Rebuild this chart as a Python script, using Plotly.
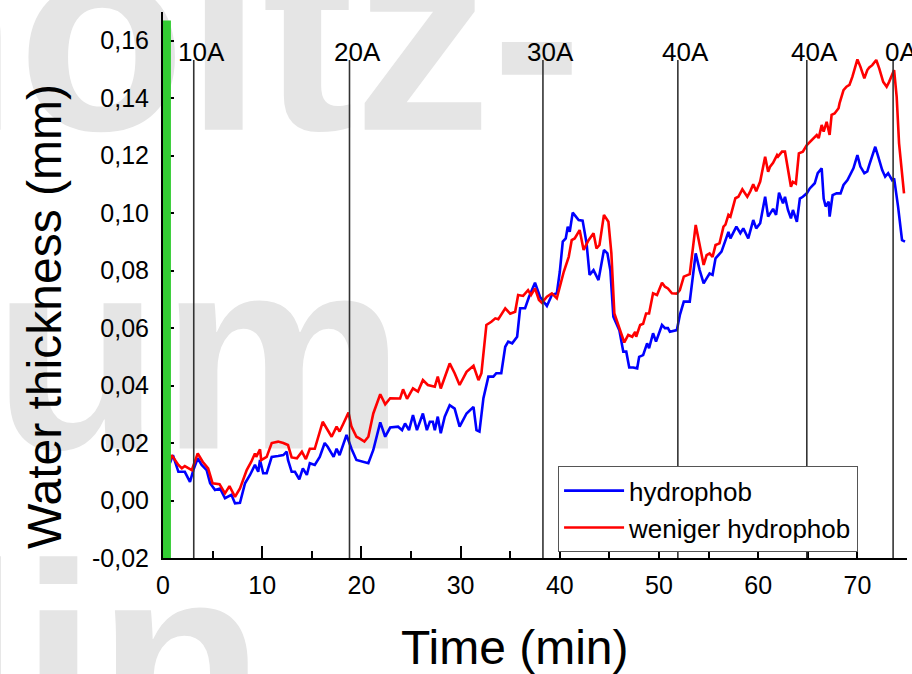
import plotly.graph_objects as go

# ---------------- data ----------------
t_hydrophob = [0.7, 0.88, 1.0, 1.55, 2.2, 2.72, 3.06, 3.5, 3.9, 4.4, 4.75, 5.24, 5.75, 6.25, 6.9,
               7.26, 7.76, 8.27, 8.77, 9.27, 9.6, 9.78, 10.1, 10.45, 10.96, 11.6, 12.13, 12.47, 12.6,
               12.97, 13.3, 13.74, 14.1, 14.5, 14.8, 15.3, 15.8, 16.3, 16.6, 17.2, 17.5, 17.8, 18.5,
               19.0, 19.5, 20.7, 21.2, 21.9, 22.4, 22.9, 23.7, 24.1, 24.4, 24.8, 25.2, 25.6, 26.2,
               26.6, 26.9, 27.2, 27.4, 27.7, 28.0, 28.4, 28.9, 29.4, 29.9, 30.6, 31.3, 31.6, 31.9,
               32.3, 32.8, 33.3, 33.6, 34.1, 34.5, 34.8, 35.2, 35.7, 36.0, 36.5, 36.9, 37.5, 38.0,
               38.7, 39.2, 39.7, 40.0, 40.3, 40.6, 40.8, 41.0, 41.3, 41.9, 42.3, 42.7, 43.0, 43.4,
               43.9, 44.45, 44.8, 45.1, 45.4, 46.0, 46.4, 46.7, 47.0, 47.4, 47.8, 48.0, 48.4, 48.8,
               49.0, 49.4, 49.7, 50.3, 50.6, 50.9, 51.1, 51.6, 51.8, 52.1, 52.5, 53.1, 53.7, 54.1,
               54.5, 54.8, 55.1, 55.4, 55.7, 56.3, 56.6, 57.0, 57.2, 57.8, 58.2, 58.5, 59.0, 59.5,
               59.8, 60.2, 60.7, 61.0, 61.5, 61.8, 62.1, 62.5, 62.7, 63.0, 63.3, 63.5, 63.9, 64.2,
               64.5, 64.9, 65.2, 65.7, 66.0, 66.4, 66.6, 66.8, 67.1, 67.2, 67.5, 67.9, 68.3, 68.6,
               69.0, 69.3, 69.6, 70.0, 70.3, 70.7, 71.0, 71.2, 71.8, 72.1, 72.5, 72.8, 73.1, 73.5,
               73.7, 74.1, 74.5, 74.8]
v_hydrophob = [0.0130, 0.0152, 0.0158, 0.0100, 0.0100, 0.0065, 0.0106, 0.0147, 0.0124, 0.0106, 0.0060,
               0.0037, 0.0042, 0.0008, 0.0020, -0.0010, -0.0008, 0.0060, 0.0089, 0.0124, 0.0100,
               0.0141, 0.0095, 0.0095, 0.0152, 0.0155, 0.0158, 0.0170, 0.0141, 0.0100, 0.0100,
               0.0074, 0.0112, 0.0089, 0.0130, 0.0124, 0.0152, 0.0200, 0.0187, 0.0152, 0.0180,
               0.0158, 0.0228, 0.0180, 0.0141, 0.0130, 0.0176, 0.0272, 0.0222, 0.0254, 0.0257,
               0.0245, 0.0268, 0.0245, 0.0297, 0.0245, 0.0303, 0.0245, 0.0274, 0.0274, 0.0245,
               0.0292, 0.0234, 0.0292, 0.0332, 0.0320, 0.0257, 0.0303, 0.0326, 0.0245, 0.0240,
               0.0356, 0.0431, 0.0431, 0.0443, 0.0443, 0.0535, 0.0553, 0.0547, 0.0570, 0.0669,
               0.0669, 0.0709, 0.0758, 0.0709, 0.0677, 0.0715, 0.0721, 0.0796, 0.0901, 0.0912,
               0.0953, 0.0935, 0.1002, 0.0976, 0.0974, 0.0895, 0.0785, 0.0802, 0.0767, 0.0872,
               0.0860, 0.0800, 0.0640, 0.0593, 0.0518, 0.0518, 0.0463, 0.0463, 0.0460, 0.0500,
               0.0506, 0.0547, 0.0530, 0.0582, 0.0553, 0.0611, 0.0600, 0.0600, 0.0587, 0.0590,
               0.0593, 0.0645, 0.0692, 0.0692, 0.0860, 0.0802, 0.0756, 0.0773, 0.0790, 0.0785,
               0.0843, 0.0866, 0.0895, 0.0935, 0.0912, 0.0953, 0.0930, 0.0947, 0.0912, 0.0976,
               0.0947, 0.0965, 0.1057, 0.0988, 0.1015, 0.0994, 0.1071, 0.1034, 0.1057, 0.1011,
               0.0982, 0.1011, 0.0970, 0.1051, 0.1057, 0.1069, 0.1086, 0.1104, 0.1139, 0.1156,
               0.1051, 0.1023, 0.1040, 0.0988, 0.1063, 0.1069, 0.1069, 0.1098, 0.1115, 0.1133,
               0.1156, 0.1202, 0.1162, 0.1139, 0.1145, 0.1168, 0.1231, 0.1197, 0.1150, 0.1127,
               0.1139, 0.1115, 0.1121, 0.1023, 0.0906, 0.0901]

t_weniger = [0.7, 0.88, 1.55, 1.9, 2.2, 2.9, 3.5, 4.0, 4.55, 5.0, 5.7, 6.25, 6.7, 7.26, 7.76, 8.44,
             8.9, 9.27, 9.4, 9.78, 9.9, 10.45, 10.96, 11.6, 12.13, 12.6, 12.97, 13.5, 14.0, 14.4,
             14.8, 15.3, 16.1, 16.5, 17.0, 17.5, 17.8, 18.2, 18.7, 19.0, 19.5, 19.8, 20.3, 20.7,
             21.2, 21.9, 22.4, 22.9, 23.2, 23.9, 24.2, 24.6, 25.2, 25.7, 26.2, 26.7, 27.4, 27.7,
             28.0, 28.9, 29.4, 29.9, 30.6, 31.3, 31.8, 32.1, 32.6, 33.1, 33.5, 33.8, 34.5, 35.0,
             35.5, 35.8, 36.3, 36.8, 37.1, 37.5, 37.9, 38.2, 38.7, 39.2, 39.7, 40.4, 40.9, 41.2,
             41.5, 42.0, 42.4, 42.9, 43.4, 43.7, 44.0, 44.45, 44.9, 45.2, 45.5, 46.0, 46.5, 46.9,
             47.3, 47.6, 47.7, 48.1, 48.4, 48.7, 49.0, 49.4, 49.8, 50.3, 50.6, 50.9, 51.3, 51.8,
             52.1, 52.5, 53.1, 53.7, 54.1, 54.5, 54.8, 55.1, 55.4, 55.7, 56.1, 56.5, 56.7, 57.0,
             57.2, 57.7, 58.0, 58.4, 58.9, 59.2, 59.5, 59.8, 60.2, 60.7, 61.0, 61.2, 61.5, 61.9,
             62.0, 62.4, 62.7, 63.0, 63.3, 63.5, 63.8, 64.1, 64.5, 64.9, 65.4, 65.9, 66.1, 66.4,
             66.6, 66.9, 67.2, 67.4, 67.7, 68.1, 68.2, 68.6, 68.9, 69.2, 69.5, 70.0, 70.3, 70.7,
             71.0, 71.2, 71.5, 71.9, 72.2, 72.6, 72.95, 73.2, 73.7, 73.96, 74.2, 74.5, 74.7]
v_weniger = [0.0140, 0.0158, 0.0124, 0.0112, 0.0120, 0.0106, 0.0164, 0.0135, 0.0112, 0.0060, 0.0057,
             0.0025, 0.0050, 0.0013, 0.0042, 0.0106, 0.0135, 0.0164, 0.0152, 0.0178, 0.0141,
             0.0152, 0.0200, 0.0205, 0.0200, 0.0193, 0.0150, 0.0147, 0.0170, 0.0144, 0.0180,
             0.0180, 0.0274, 0.0251, 0.0222, 0.0257, 0.0240, 0.0269, 0.0306, 0.0257, 0.0222,
             0.0216, 0.0205, 0.0222, 0.0303, 0.0370, 0.0335, 0.0356, 0.0356, 0.0355, 0.0387,
             0.0354, 0.0390, 0.0379, 0.0419, 0.0402, 0.0396, 0.0431, 0.0390, 0.0477, 0.0443,
             0.0402, 0.0448, 0.0469, 0.0419, 0.0443, 0.0611, 0.0622, 0.0634, 0.0631, 0.0669,
             0.0650, 0.0657, 0.0715, 0.0712, 0.0732, 0.0715, 0.0738, 0.0698, 0.0688, 0.0709,
             0.0721, 0.0704, 0.0796, 0.0848, 0.0906, 0.0912, 0.0941, 0.0872, 0.0906, 0.0930,
             0.0877, 0.0889, 0.0994, 0.0970, 0.0860, 0.0651, 0.0600, 0.0550, 0.0576, 0.0570,
             0.0587, 0.0570, 0.0611, 0.0615, 0.0651, 0.0651, 0.0721, 0.0715, 0.0758, 0.0744,
             0.0738, 0.0721, 0.0720, 0.0732, 0.0779, 0.0788, 0.0959, 0.0883, 0.0820, 0.0854,
             0.0860, 0.0848, 0.0889, 0.0895, 0.0953, 0.0960, 0.0994, 0.0988, 0.1052, 0.1057,
             0.1083, 0.1057, 0.1076, 0.1101, 0.1076, 0.1110, 0.1196, 0.1144, 0.1162, 0.1175,
             0.1202, 0.1197, 0.1214, 0.1214, 0.1150, 0.1092, 0.1109, 0.1103, 0.1208, 0.1214,
             0.1237, 0.1255, 0.1272, 0.1261, 0.1307, 0.1284, 0.1318, 0.1272, 0.1342, 0.1347,
             0.1365, 0.1382, 0.1428, 0.1440, 0.1446, 0.1475, 0.1535, 0.1510, 0.1469, 0.1498,
             0.1507, 0.1515, 0.1533, 0.1504, 0.1457, 0.1440, 0.1457, 0.1498, 0.1405, 0.1243,
             0.1139, 0.1069]

series_names = ["hydrophob", "weniger hydrophob"]

# current steps (vertical marker lines)
marker_times = [3.1, 18.8, 38.3, 51.9, 64.9, 73.6]
marker_labels = ["10A", "20A", "30A", "40A", "40A", "0A"]
marker_top = 0.1533

# highlighted start band
band_end = 0.8
band_top = 0.167

y_tickvals = [-0.02, 0.00, 0.02, 0.04, 0.06, 0.08, 0.10, 0.12, 0.14, 0.16]
y_ticktext = ["-0,02", "0,00", "0,02", "0,04", "0,06", "0,08", "0,10", "0,12", "0,14", "0,16"]
x_tickvals = [0, 10, 20, 30, 40, 50, 60, 70]

watermark_rows = ["Helmholtz-", "Zentrum", "Berlin"]

FONT = "Liberation Sans, Arial, sans-serif"

fig = go.Figure()
fig.add_trace(go.Scatter(x=t_hydrophob, y=v_hydrophob, mode="lines", name=series_names[0],
                         line=dict(color="#0000ff", width=2.6)))
fig.add_trace(go.Scatter(x=t_weniger, y=v_weniger, mode="lines", name=series_names[1],
                         line=dict(color="#ff0000", width=2.6)))

shapes = []
# watermark (behind everything)
wm_cx = [-0.3804, -0.414, -0.387]
wm_cy = [1.007, 0.4231, -0.1392]
for txt, cx, cy in zip(watermark_rows, wm_cx, wm_cy):
    shapes.append(dict(type="rect", xref="paper", yref="paper", layer="below",
                       x0=cx - 1.5, x1=cx + 1.5, y0=cy - 0.1, y1=cy + 0.1,
                       line=dict(width=0), fillcolor="rgba(0,0,0,0)",
                       label=dict(text=txt, textposition="middle center", padding=0,
                                  font=dict(family=FONT, size=275, color="#e5e5e5", weight="bold"))))
# green band
shapes.append(dict(type="rect", xref="x", yref="y", x0=0, x1=band_end, y0=-0.02, y1=band_top,
                   line=dict(width=0), fillcolor="#33cc33", layer="above"))
# marker lines
for t in marker_times:
    shapes.append(dict(type="line", xref="x", yref="y", x0=t, x1=t, y0=-0.02, y1=marker_top,
                       line=dict(color="#333333", width=1.6), layer="above"))

annotations = []
for t, lab in zip(marker_times, marker_labels):
    annotations.append(dict(x=t, y=marker_top, xref="x", yref="y", text=lab, showarrow=False,
                            xanchor="center", yanchor="bottom", xshift=8, yshift=-9,
                            font=dict(family=FONT, size=26, color="black")))
annotations.append(dict(x=-0.1586, y=0.4414, xref="paper", yref="paper", text="Water thickness (mm)",
                        showarrow=False, textangle=-90, xanchor="center", yanchor="middle",
                        font=dict(family=FONT, size=48, color="black")))
annotations.append(dict(x=0.4731, y=-0.1648, xref="paper", yref="paper", text="Time (min)",
                        showarrow=False, xanchor="center", yanchor="middle",
                        font=dict(family=FONT, size=48, color="black")))

fig.update_layout(
    width=912, height=674,
    margin=dict(l=163, r=5, t=12, b=116),
    paper_bgcolor="white", plot_bgcolor="rgba(0,0,0,0)",
    font=dict(family=FONT, color="black"),
    shapes=shapes, annotations=annotations,
    legend=dict(x=0.531, y=0.168, xanchor="left", yanchor="top",
                bgcolor="white", bordercolor="#555555", borderwidth=1,
                font=dict(family=FONT, size=26, color="black"), itemwidth=60,
                tracegroupgap=0),
    xaxis=dict(range=[0, 75], showgrid=False, zeroline=False,
               showline=True, linecolor="black", linewidth=2,
               ticks="inside", ticklen=12, tickwidth=2, tickcolor="black",
               tickvals=x_tickvals, tickfont=dict(family=FONT, size=25, color="black"),
               ticklabelstandoff=4,
               minor=dict(dtick=5, tick0=0, ticks="inside", ticklen=7, tickwidth=2, tickcolor="black")),
    yaxis=dict(range=[-0.02, 0.17], showgrid=False, zeroline=False,
               showline=True, linecolor="black", linewidth=2,
               ticks="inside", ticklen=11, tickwidth=2, tickcolor="black",
               tickvals=y_tickvals, ticktext=y_ticktext, ticklabelstandoff=7,
               tickfont=dict(family=FONT, size=25, color="black")),
)

fig.write_html("out.html", config={"displayModeBar": False},
               post_script="document.body.style.margin='0px';")
